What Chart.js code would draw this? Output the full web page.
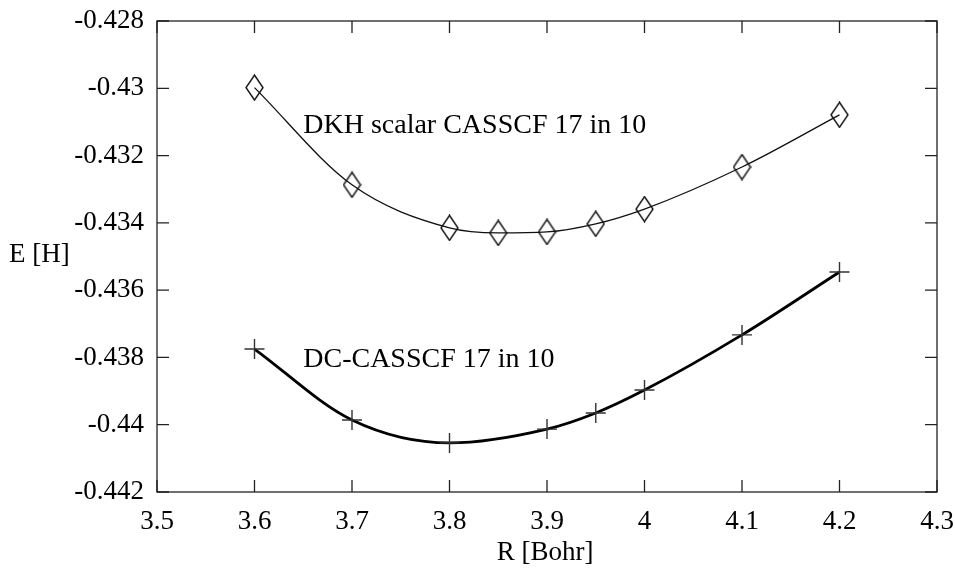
<!DOCTYPE html>
<html>
<head>
<meta charset="utf-8">
<script src="https://cdn.jsdelivr.net/npm/chart.js@4"></script>
<style>
  html, body { margin: 0; padding: 0; background: #fff; }
</style>
</head>
<body>
<canvas id="myChart" width="955" height="569"></canvas>
<script>
// values
var rValues = [3.6, 3.7, 3.8, 3.85, 3.9, 3.95, 4.0, 4.1, 4.2];
var dkhValues = [-0.42998, -0.43287, -0.43415, -0.43430, -0.43427, -0.43403, -0.43359, -0.43234, -0.43079];
var dcR = [3.6, 3.7, 3.8, 3.9, 3.95, 4.0, 4.1, 4.2];
var dcValues = [-0.43775, -0.43986, -0.44054, -0.44013, -0.43965, -0.43897, -0.43733, -0.43546];
var xTicks = [3.5, 3.6, 3.7, 3.8, 3.9, 4.0, 4.1, 4.2, 4.3];
var yTicks = [-0.442, -0.44, -0.438, -0.436, -0.434, -0.432, -0.43, -0.428];

var FONT = '"Liberation Serif"';

//tall diamond marker
function diamond(){
    var c = document.createElement('canvas');
    c.width = 19; c.height = 27;
    var g = c.getContext('2d');
    g.strokeStyle = '#111';
    g.lineWidth = 1.4;
    g.beginPath();
    g.moveTo(9.5, 1); g.lineTo(18, 13.5); g.lineTo(9.5, 26); g.lineTo(1, 13.5); g.closePath();
    g.stroke();
    return c;
}

function toXY(xs, ys){
    return xs.map(function(x, i){ return {x: x, y: ys[i]}; });
}

var frame = {
    id: 'frame',
    afterDraw: function(chart){
        var ctx = chart.ctx, a = chart.chartArea;
        var xs = chart.scales.x, ys = chart.scales.y;
        ctx.save();
        ctx.strokeStyle = '#222';
        ctx.lineWidth = 1.3;
        ctx.strokeRect(a.left, a.top, a.right - a.left, a.bottom - a.top);
        //inward ticks on all four sides
        ctx.beginPath();
        xTicks.forEach(function(t){
            var px = xs.getPixelForValue(t);
            ctx.moveTo(px, a.bottom); ctx.lineTo(px, a.bottom - 12);
            ctx.moveTo(px, a.top); ctx.lineTo(px, a.top + 12);
        });
        yTicks.forEach(function(t){
            var py = ys.getPixelForValue(t);
            ctx.moveTo(a.left, py); ctx.lineTo(a.left + 12, py);
            ctx.moveTo(a.right, py); ctx.lineTo(a.right - 12, py);
        });
        ctx.stroke();

        ctx.fillStyle = '#000';
        ctx.font = '28px ' + FONT;
        ctx.textBaseline = 'alphabetic';
        ctx.textAlign = 'left';
        ctx.fillText('DKH scalar CASSCF 17 in 10', xs.getPixelForValue(3.65), ys.getPixelForValue(-0.43133));
        ctx.fillText('DC-CASSCF 17 in 10', xs.getPixelForValue(3.65), ys.getPixelForValue(-0.43829));
        ctx.font = '27px ' + FONT;
        ctx.fillText('E [H]', 9, 262);
        ctx.textAlign = 'center';
        ctx.fillText('R [Bohr]', 545, 560);
        ctx.restore();
    }
};

new Chart("myChart", {
    type: 'scatter',
    data: {
        datasets: [{
            label: 'DKH scalar CASSCF 17 in 10',
            data: toXY(rValues, dkhValues),
            showLine: true,
            borderColor: '#111',
            borderWidth: 1.3,
            cubicInterpolationMode: 'monotone',
            pointStyle: diamond(),
            pointRadius: 10
        }, {
            label: 'DC-CASSCF 17 in 10',
            data: toXY(dcR, dcValues),
            showLine: true,
            borderColor: '#000',
            borderWidth: 2.8,
            cubicInterpolationMode: 'monotone',
            pointStyle: 'cross',
            pointRadius: 10,
            pointBorderWidth: 1.4,
            pointBorderColor: '#333'
        }]
    },
    options: {
        responsive: false,
        animation: false,
        layout: { padding: { left: 0, top: 21, right: 18, bottom: 0 } },
        plugins: { legend: { display: false }, tooltip: { enabled: false } },
        scales: {
            x: {
                type: 'linear', min: 3.5, max: 4.3,
                afterBuildTicks: function(s){ s.ticks = xTicks.map(function(v){ return {value: v}; }); },
                afterFit: function(s){ s.height = 77; s.paddingLeft = 0; s.paddingRight = 0; },
                grid: { display: false, drawTicks: false },
                border: { display: false },
                ticks: {
                    padding: 14, color: '#000', font: { family: FONT, size: 27 },
                    maxRotation: 0, autoSkip: false,
                    callback: function(v){ return String(+v.toFixed(2)); }
                }
            },
            y: {
                type: 'linear', min: -0.442, max: -0.428,
                afterBuildTicks: function(s){ s.ticks = yTicks.map(function(v){ return {value: v}; }); },
                afterFit: function(s){ s.width = 157; s.paddingTop = 0; s.paddingBottom = 0; },
                grid: { display: false, drawTicks: false },
                border: { display: false },
                ticks: {
                    padding: 13, color: '#000', font: { family: FONT, size: 27 },
                    autoSkip: false,
                    callback: function(v){ return String(+v.toFixed(3)); }
                }
            }
        }
    },
    plugins: [frame]
});
</script>
</body>
</html>
